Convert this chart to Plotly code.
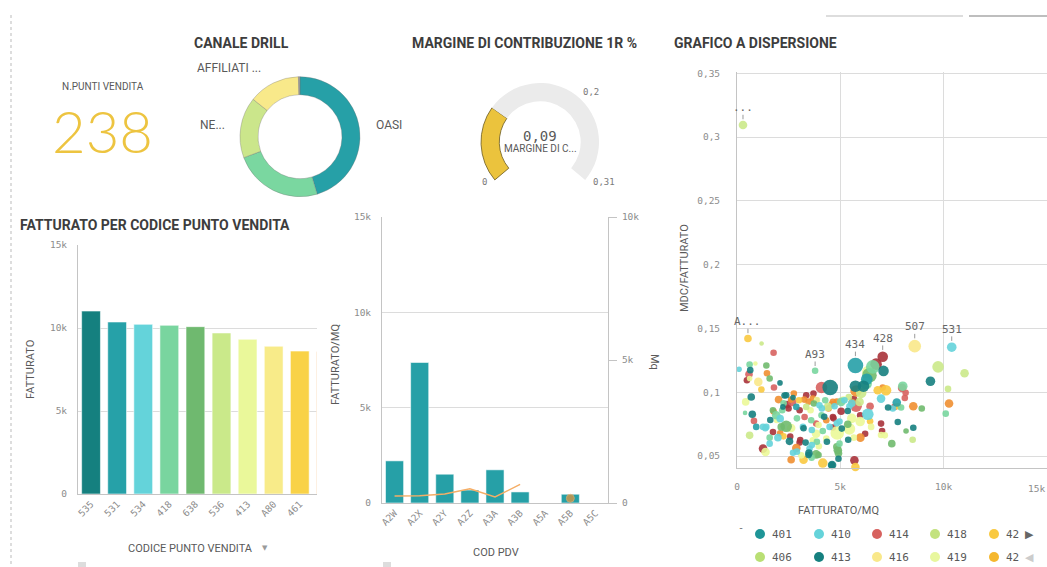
import math
import plotly.graph_objects as go

W, H = 1047, 567

# ---------------- data ----------------
kpi_title = "N.PUNTI VENDITA"
kpi_value = 238

canale_labels = ["OASI", "ALTRI", "NE...", "AFFILIATI ...", "-"]
canale_values = [108, 57, 39, 33, 1]
canale_colors = ["#26A0A7", "#7AD7A0", "#CBE68B", "#F8E98A", "#A0A0A0"]

margine_value = 0.09
margine_max = 0.31
margine_sweep = 260
margine_tick_vals = [0, 0.2, 0.31]
margine_tick_text = ["0", "0,2", "0,31"]
margine_value_text = "0,09"
margine_label = "MARGINE DI C..."

pv_codes = ["535", "531", "534", "418", "638", "536", "413", "A80", "461", "404"]
pv_fatturato = [11020, 10360, 10220, 10160, 10080, 9700, 9320, 8900, 8610, 8570]
pv_colors = ["#15807F", "#26A1A8", "#64D3DA", "#79D59F", "#6FB96F",
             "#CAE98A", "#EAF89A", "#F8EB89", "#F9D247", "#F6C28A"]

pdv_codes = ["A2W", "A2X", "A2Y", "A2Z", "A3A", "A3B", "A5A", "A5B", "A5C"]
pdv_fatt_mq = [2210, 7370, 1510, 680, 1740, 580, None, 460, None]
pdv_mq = [245, 250, 315, 500, 210, 650, None, 165, None]

k_ticks = [0, 5000, 10000, 15000]
k_ticktext = ["0", "5k", "10k", "15k"]
k_ticks_right = [0, 5000, 10000]
k_ticktext_right = ["0", "5k", "10k"]
mdc_ticks = [0.05, 0.1, 0.15, 0.2, 0.25, 0.3, 0.35]
mdc_ticktext = ["0,05", "0,1", "0,15", "0,2", "0,25", "0,3", "0,35"]

# scatter series (FATTURATO/MQ, MDC/FATTURATO, bubble size)
dt_x = [640, 690, 740, 2080, 2300, 2710, 2540, 3480, 3320, 4600, 4910, 5380, 5070, 5360, 2220, 2380, 4510, 5730, 6120, 7090, 7310, 7780, 9360, 8530, 2870,
        4220, 3220, 4350, 4590, 1610, 3460]
dt_y = [0.1173, 0.0963, 0.0827, 0.1073, 0.0974, 0.0958, 0.0615, 0.0524, 0.0605, 0.0429, 0.0479, 0.0628, 0.0715, 0.0853, 0.0885, 0.0976, 0.1037, 0.1047, 0.1047, 0.1167, 0.0880, 0.0767, 0.1086, 0.0722, 0.035,
        0.0808, 0.0717, 0.0612, 0.0430, 0.0782, 0.0508]
dt_s = [5, 6, 6, 4, 5, 4, 6, 6, 5, 7, 5, 5, 5, 5, 4, 5, 14, 10, 10, 9, 5, 5, 8, 5, 3,
        5, 5, 5, 5, 5, 5]

t_x = [5730, 6280, 2870, 7730, 930]
t_y = [0.121, 0.1102, 0.0885, 0.0919, 0.0728]
t_s = [14, 10, 5, 7, 5]

c_x = [100, 2090, 1260, 1420, 1980, 1580, 2710, 3510, 4960, 4480, 3190, 3990, 4720, 5440, 5200, 6330, 6970, 7540, 10390, 210, 6020,
       4105, 5555, 4830, 3620, 1370, 3620, 2900]
c_y = [0.118, 0.0793, 0.0728, 0.0728, 0.0644, 0.0597, 0.0526, 0.0558, 0.0770, 0.0728, 0.0728, 0.0898, 0.0890, 0.0890, 0.0937, 0.0827, 0.0950, 0.0872, 0.1353, 0.035, 0.035,
       0.0873, 0.0913, 0.0756, 0.0704, 0.0717, 0.0586, 0.0534]
c_s = [4, 6, 5, 5, 6, 5, 5, 5, 5, 5, 5, 5, 5, 5, 5, 10, 7, 5, 8, 3, 3,
       5, 6, 5, 5, 5, 5, 5]

g_x = [610, 390, 2190, 1900, 1580, 3610, 4960, 4090, 3590, 4150, 4270, 5040, 6250, 6570, 3780, 8020, 7940, 10100, 2350, 2540, 2670,
       3865, 2900, 2255]
g_y = [0.1217, 0.0838, 0.0859, 0.0819, 0.0644, 0.0487, 0.0597, 0.0819, 0.0780, 0.0696, 0.0937, 0.0924, 0.1068, 0.1199, 0.1168, 0.1047, 0.0880, 0.0832, 0.035, 0.035, 0.035,
       0.0612, 0.0795, 0.0913]
g_s = [5, 3, 5, 7, 5, 5, 5, 5, 5, 5, 5, 7, 10, 12, 5, 8, 5, 5, 3, 3, 3,
       5, 5, 5]

mg_x = [1420, 1580, 1740, 2140, 2380, 3830, 4880, 5360, 3720, 6410, 7490, 8940, 8180, 3720,
        4830, 4910, 3945]
mg_y = [0.1209, 0.1107, 0.0859, 0.0728, 0.0733, 0.0513, 0.0545, 0.0749, 0.0911, 0.1133, 0.0597, 0.0872, 0.0696, 0.035,
        0.0573, 0.0521, 0.0508]
mg_s = [5, 5, 5, 6, 10, 7, 7, 6, 5, 13, 6, 5, 4, 3,
        6, 6, 5]

lg_x = [290, 1190, 610, 3350, 4400, 5930, 5410, 6010, 9730, 10210, 11010, 8500, 1380]
lg_y = [0.3094, 0.1382, 0.0662, 0.0885, 0.0885, 0.0924, 0.0963, 0.0995, 0.1199, 0.1026, 0.1149, 0.0628, 0.035]
lg_s = [7, 3, 6, 5, 7, 7, 5, 9, 10, 5, 7, 5, 3]

ly_x = [610, 420, 2620, 1380, 3110, 3670, 3960, 5650, 6490, 6970, 5960, 5440, 4850, 3830, 4320, 3560, 6330, 7150, 890, 1130, 2060, 4640,
        3865, 5150, 3945, 1930, 5555]
ly_y = [0.1107, 0.0924, 0.0720, 0.0531, 0.0505, 0.0623, 0.0576, 0.0644, 0.0728, 0.0665, 0.0770, 0.0712, 0.0681, 0.0675, 0.0636, 0.0859, 0.1160, 0.0662, 0.1225, 0.035, 0.035, 0.035,
        0.0939, 0.0939, 0.0743, 0.0782, 0.0795]
ly_s = [4, 6, 7, 7, 5, 5, 5, 5, 5, 5, 8, 10, 12, 7, 5, 5, 10, 5, 3, 3, 3, 3,
        5, 6, 5, 5, 8]

y_x = [1030, 8600]
y_y = [0.1081, 0.1361]
y_s = [7, 11]

go_x = [530, 1180, 2250, 3220, 4150, 5730, 6440, 3000, 6810, 7210, 7780, 3190]
go_y = [0.1421, 0.1021, 0.0654, 0.0471, 0.0445, 0.0414, 0.0772, 0.0937, 0.1016, 0.1016, 0.0890, 0.035]
go_s = [6, 5, 5, 7, 8, 7, 5, 5, 7, 9, 5, 3]

o_x = [1450, 2010, 2870, 2620, 5970, 4320, 3670, 4640, 5570, 3250, 2620, 2750, 4590, 5760, 7050, 8530, 10260, 80, 370, 1580, 1770,
       3460, 4430, 4830, 1770, 2090]
o_y = [0.1149, 0.0942, 0.0563, 0.0471, 0.0644, 0.0780, 0.0950, 0.0924, 0.0919, 0.0942, 0.0942, 0.0990, 0.0906, 0.1010, 0.1037, 0.0890, 0.0911, 0.035, 0.035, 0.035, 0.035,
       0.0926, 0.0873, 0.0926, 0.0848, 0.0678]
o_s = [5, 6, 7, 6, 7, 5, 5, 5, 6, 5, 5, 5, 5, 10, 5, 7, 7, 3, 3, 3, 3,
       5, 5, 5, 5, 5]

r_x = [580, 820, 1770, 1790, 2670, 3830, 3270, 4090, 5760, 6440, 7990, 8120, 8160, 7620, 480, 610]
r_y = [0.1141, 0.0775, 0.1309, 0.1037, 0.0924, 0.0754, 0.0806, 0.1037, 0.0890, 0.0890, 0.1034, 0.0955, 0.0995, 0.0885, 0.035, 0.035]
r_s = [6, 5, 5, 5, 7, 5, 5, 10, 10, 6, 7, 5, 5, 5, 3, 3]

dr_x = [480, 2430, 1740, 1260, 3030, 5680, 6200, 7020, 6970, 4640, 4640, 3030, 3830, 5040, 5650, 5960, 3350, 3700, 6730, 7050,
        4670, 3060, 2495, 2575]
dr_y = [0.1094, 0.0903, 0.0688, 0.0558, 0.0605, 0.0466, 0.0675, 0.0696, 0.0754, 0.0723, 0.0806, 0.0859, 0.0937, 0.0851, 0.0942, 0.0819, 0.0976, 0.0990, 0.1220, 0.1278,
        0.0795, 0.0625, 0.0873, 0.0652]
dr_s = [5, 6, 5, 7, 5, 7, 5, 5, 5, 5, 5, 5, 5, 6, 6, 5, 5, 5, 10, 9,
        5, 5, 5, 5]

scatter_labels = ["...", "A...", "A93", "434", "428", "507", "531"]
scatter_label_x = [290, 530, 3780, 5730, 7050, 8600, 10390]
scatter_label_y = [0.3094, 0.1421, 0.1168, 0.121, 0.1278, 0.1361, 0.1353]
scatter_label_s = [7, 6, 5, 14, 9, 11, 8]

legend_row1 = ["401", "410", "414", "418", "42"]
legend_row1_colors = ["#1E9597", "#65D3DA", "#D7625F", "#C3E27E", "#F9C940"]
legend_row2 = ["406", "413", "416", "419", "42"]
legend_row2_colors = ["#B9DF74", "#16807F", "#F9E88A", "#E8F79E", "#F5B72E"]

# ---------------- helpers ----------------
def X(px):
    return px / W


def Y(py):
    return 1 - py / H


TITLE_FONT = dict(family="Roboto", size=14, color="#3D3D3D", weight=700)
LABEL_FONT = dict(family="Roboto", size=11, color="#595959")
TICK_FONT = dict(family="DejaVu Sans Mono", size=9.5, color="#8C8C8C")
GRID = "#DCDCDC"
LINE = "#C4C4C4"
SIZE_ADD = 1.6

annotations = []


def ann(text, px, py, font, xanchor="center", yanchor="middle", angle=0):
    annotations.append(dict(text=text, x=X(px), y=Y(py), xref="paper", yref="paper",
                            showarrow=False, font=font, xanchor=xanchor, yanchor=yanchor,
                            textangle=angle, borderpad=0))


fig = go.Figure()

# ---------------- donut ----------------
fig.add_trace(go.Pie(
    labels=canale_labels, values=canale_values, hole=0.7, sort=False,
    direction="clockwise", rotation=0,
    marker=dict(colors=canale_colors, line=dict(color="rgba(110,110,110,0.55)", width=0.6)),
    textinfo="none", hoverinfo="label+value",
    domain=dict(x=[X(240), X(360)], y=[Y(196.7), Y(76.7)]),
    showlegend=False))

# ---------------- gauge ----------------
g_cx, g_cy, g_r = 540, 142, 59
gap_value = margine_max * (360 - margine_sweep) / margine_sweep
fig.add_trace(go.Pie(
    labels=["valore", "resto", "vuoto"],
    values=[margine_value, margine_max - margine_value, gap_value],
    hole=0.69, sort=False, direction="clockwise", rotation=-margine_sweep / 2,
    marker=dict(colors=["#EBC33D", "#EBEBEB", "rgba(0,0,0,0)"],
                line=dict(color=["#6B5A20", "rgba(0,0,0,0)", "rgba(0,0,0,0)"], width=[0.8, 0, 0])),
    textinfo="none", hoverinfo="skip",
    domain=dict(x=[X(g_cx - g_r), X(g_cx + g_r)], y=[Y(g_cy + g_r), Y(g_cy - g_r)]),
    showlegend=False))

# ---------------- bar chart 1 ----------------
fig.add_trace(go.Bar(
    x=pv_codes, y=pv_fatturato, width=0.72,
    marker=dict(color=pv_colors, line=dict(color="rgba(255,255,255,0.55)", width=1)),
    xaxis="x", yaxis="y", showlegend=False, hoverinfo="x+y"))

# ---------------- combo chart ----------------
fig.add_trace(go.Bar(
    x=pdv_codes, y=pdv_fatt_mq, width=0.72,
    marker=dict(color="#26A0A7", line=dict(color="rgba(255,255,255,0.55)", width=1)),
    xaxis="x2", yaxis="y2", showlegend=False))
iso_sizes = []
for i, v in enumerate(pdv_mq):
    prev_v = pdv_mq[i - 1] if i > 0 else None
    next_v = pdv_mq[i + 1] if i < len(pdv_mq) - 1 else None
    iso_sizes.append(8 if (v is not None and prev_v is None and next_v is None) else 0)
fig.add_trace(go.Scatter(
    x=pdv_codes, y=pdv_mq, mode="lines+markers", connectgaps=False,
    line=dict(color="#F5AE66", width=1.5),
    marker=dict(size=iso_sizes, color="#EE9438"),
    xaxis="x2", yaxis="y3", showlegend=False))

# ---------------- scatter ----------------
scatter_groups = [
    ("#A8323A", dr_x, dr_y, dr_s),
    ("#D7625F", r_x, r_y, r_s),
    ("#EF8F31", o_x, o_y, o_s),
    ("#F9C940", go_x, go_y, go_s),
    ("#F9E88A", y_x, y_y, y_s),
    ("#EBF898", ly_x, ly_y, ly_s),
    ("#CBE989", lg_x, lg_y, lg_s),
    ("#70BA6E", mg_x, mg_y, mg_s),
    ("#79D69F", g_x, g_y, g_s),
    ("#65D3DA", c_x, c_y, c_s),
    ("#26A0A7", t_x, t_y, t_s),
    ("#16807F", dt_x, dt_y, dt_s),
]
for col, xs, ys, ss in scatter_groups:
    fig.add_trace(go.Scatter(
        x=xs, y=ys, mode="markers", cliponaxis=False,
        marker=dict(size=[s + SIZE_ADD for s in ss], color=col, opacity=0.9, line=dict(width=0)),
        xaxis="x3", yaxis="y4", showlegend=False))

for t, xv, yv, s in zip(scatter_labels, scatter_label_x, scatter_label_y, scatter_label_s):
    r = (s + SIZE_ADD) / 2
    annotations.append(dict(
        text=t, x=xv, y=yv, xref="x3", yref="y4", showarrow=True, arrowhead=0,
        arrowwidth=1, arrowcolor="#9A9A9A", ax=0, ay=-(r + 13), standoff=r + 1.5,
        font=dict(family="DejaVu Sans Mono", size=11, color="#666666"), borderpad=0))

# ---------------- texts ----------------
ann(kpi_title, 103, 86, dict(family="Roboto", size=10, color="#595959"))
ann(str(kpi_value), 103, 130, dict(family="Lato", size=58, color="#EDC440", weight=300))

ann("CANALE DRILL", 193, 43, TITLE_FONT, xanchor="left")
ann("MARGINE DI CONTRIBUZIONE 1R %", 411, 43, TITLE_FONT, xanchor="left")
ann("FATTURATO PER CODICE PUNTO VENDITA", 19, 225, TITLE_FONT, xanchor="left")
ann("GRAFICO A DISPERSIONE", 673, 43, TITLE_FONT, xanchor="left")

ann("AFFILIATI ...", 196, 68, dict(family="Roboto", size=12, color="#595959"), xanchor="left")
ann("NE...", 199, 125, dict(family="Roboto", size=12, color="#595959"), xanchor="left")
ann("OASI", 375, 125, dict(family="Roboto", size=12, color="#595959"), xanchor="left")

for v, t in zip(margine_tick_vals, margine_tick_text):
    a = math.radians(-margine_sweep / 2 + v / margine_max * margine_sweep)
    lx = g_cx + (g_r + 9) * math.sin(a)
    ly = g_cy - (g_r + 4) * math.cos(a)
    ann(t, lx, ly, dict(family="DejaVu Sans Mono", size=9, color="#7A7A7A"),
        xanchor="left" if math.sin(a) > 0 else "right")
ann(margine_value_text, g_cx, 136, dict(family="DejaVu Sans Mono", size=14, color="#595959"))
ann(margine_label, g_cx, 148, dict(family="Roboto", size=10, color="#595959"))

ann("FATTURATO", 30, 370, LABEL_FONT, angle=-90)
ann("CODICE PUNTO VENDITA", 190, 548, LABEL_FONT)
ann("▼", 265, 548, dict(family="DejaVu Sans", size=7, color="#9A9A9A"))
ann("FATTURATO/MQ", 335, 365, LABEL_FONT, angle=-90)
ann("COD PDV", 496, 552, LABEL_FONT)
ann("Mq", 655, 362, LABEL_FONT, angle=90)
ann("MDC/FATTURATO", 684, 268, LABEL_FONT, angle=-90)
ann("FATTURATO/MQ", 838, 510, LABEL_FONT)
# last x tick of the scatter, pulled inside the page like the original
ann(k_ticktext[-1], 1046, 488, TICK_FONT, xanchor="right")

# scatter legend
ann("-", 741, 527, dict(family="DejaVu Sans Mono", size=10, color="#777777"))
shapes = []
leg_x = [760, 819, 877, 935, 994]
for row_y, codes, cols in [(534, legend_row1, legend_row1_colors), (557, legend_row2, legend_row2_colors)]:
    for lx, code, col in zip(leg_x, codes, cols):
        shapes.append(dict(type="circle", xref="paper", yref="paper",
                           x0=X(lx - 5), x1=X(lx + 5), y0=Y(row_y + 5), y1=Y(row_y - 5),
                           fillcolor=col, line=dict(width=0)))
        ann(code, lx + 11, row_y, dict(family="DejaVu Sans Mono", size=11, color="#595959"), xanchor="left")
ann("▶", 1029, 534, dict(family="DejaVu Sans", size=11, color="#666666"))
ann("◀", 1029, 557, dict(family="DejaVu Sans", size=11, color="#CCCCCC"))

# decorations
shapes.append(dict(type="line", xref="paper", yref="paper", x0=X(11), x1=X(11), y0=Y(15), y1=Y(567),
                   line=dict(color="#BBBBBB", width=1, dash="dot")))
shapes.append(dict(type="line", xref="paper", yref="paper", x0=X(826), x1=X(963), y0=Y(16), y1=Y(16),
                   line=dict(color="#D2D2D2", width=1.5)))
shapes.append(dict(type="line", xref="paper", yref="paper", x0=X(969), x1=X(1047), y0=Y(16), y1=Y(16),
                   line=dict(color="#A8A8A8", width=1.5)))
for sx in (78, 383):
    shapes.append(dict(type="rect", xref="paper", yref="paper", x0=X(sx), x1=X(sx + 8), y0=Y(567), y1=Y(562),
                       fillcolor="#DDDDDD", line=dict(width=0)))

# ---------------- layout ----------------
common = dict(automargin=False, fixedrange=True, tickfont=TICK_FONT, zeroline=False)
fig.update_layout(
    width=W, height=H, margin=dict(l=0, r=0, t=0, b=0, pad=0, autoexpand=False),
    paper_bgcolor="white", plot_bgcolor="white",
    separators=",.", showlegend=False,
    annotations=annotations, shapes=shapes,
    xaxis=dict(domain=[X(78), X(317)], anchor="y", type="category", range=[-0.5, 8.66],
               tickangle=-45, showgrid=False, showline=True, linecolor=LINE, ticks="", **common),
    yaxis=dict(domain=[Y(494), Y(245)], anchor="x", range=[0, 15000], tickvals=k_ticks,
               ticktext=k_ticktext, gridcolor=GRID, showline=True, linecolor=LINE,
               ticklabelstandoff=8, **common),
    xaxis2=dict(domain=[X(382), X(608)], anchor="y2", type="category", range=[-0.5, 8.5],
                tickangle=-45, showgrid=False, showline=True, linecolor=LINE, ticks="", **common),
    yaxis2=dict(domain=[Y(503), Y(217)], anchor="x2", range=[0, 15000], tickvals=k_ticks,
                ticktext=k_ticktext, gridcolor=GRID, showline=True, linecolor=LINE,
                ticklabelstandoff=8, **common),
    yaxis3=dict(overlaying="y2", anchor="x2", side="right", range=[0, 10000], tickvals=k_ticks_right,
                ticktext=k_ticktext_right, showgrid=False, showline=True,
                linecolor=LINE, ticks="outside", ticklen=8, tickcolor=LINE,
                ticklabelstandoff=3, **common),
    xaxis3=dict(domain=[X(737), 1], anchor="y4", range=[0, 15000], tickvals=k_ticks[:-1],
                ticktext=k_ticktext[:-1], gridcolor=GRID, showline=True, linecolor=LINE,
                ticklabelstandoff=10, **common),
    yaxis4=dict(domain=[Y(468), Y(72)], anchor="x3", range=[0.0406, 0.351], tickvals=mdc_ticks,
                ticktext=mdc_ticktext, gridcolor=GRID, showline=True, linecolor=LINE,
                ticklabelstandoff=14, **common),
)

fig.write_html("out.html")
